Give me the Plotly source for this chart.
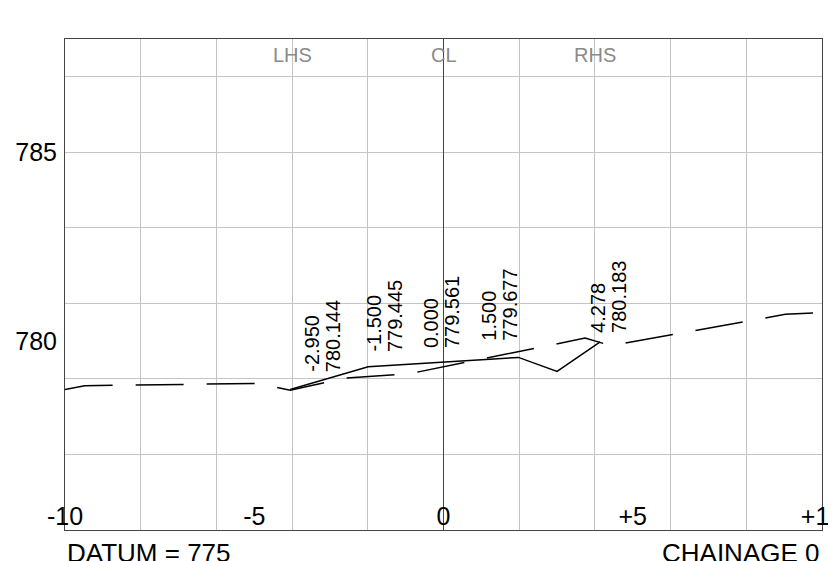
import plotly.graph_objects as go

# ---- data ----
ground_x = [-10.0, -9.48, -4.93, -4.05, -2.61, -0.89, 3.74, 4.43, 9.03, 10.0]
ground_y = [778.72, 778.82, 778.88, 778.70, 779.02, 779.14, 780.08, 779.88, 780.71, 780.76]

design_x = [-4.05, -1.99, 1.98, 3.00, 4.14]
design_y = [778.72, 779.32, 779.57, 779.20, 779.98]

label_offsets = [-2.950, -1.500, 0.000, 1.500, 4.278]
label_levels = [780.144, 779.445, 779.561, 779.677, 780.183]
label_base = [779.16, 779.69, 779.79, 779.98, 780.19]
label_nudge = [-9, -2, -2, -1, 3]

side_labels = ["LHS", "CL", "RHS"]
side_offsets = [-4, 0, 4]

x_ticks = [-10, -5, 0, 5, 10]
x_ticktext = ["-10", "-5", "0", "+5", "+10"]
y_ticks = [780, 785]
y_grid = [775, 777, 779, 781, 783, 785, 787]
x_grid = [-8, -6, -4, -2, 2, 4, 6, 8]

datum = 775
chainage = 0

FONT = "Liberation Sans, Arial, sans-serif"
GRID = "#c4c4c4"
AXIS = "#444444"

fig = go.Figure()
fig.add_trace(go.Scatter(x=ground_x, y=ground_y, mode="lines",
                         line=dict(color="black", width=1.5, dash="48px,23px"),
                         showlegend=False, hoverinfo="skip"))
fig.add_trace(go.Scatter(x=design_x, y=design_y, mode="lines",
                         line=dict(color="black", width=1.5),
                         showlegend=False, hoverinfo="skip"))
fig.add_trace(go.Scatter(x=[None], y=[None], yaxis="y2", showlegend=False, hoverinfo="skip"))

annotations = []
for off, lev, base, nud in zip(label_offsets, label_levels, label_base, label_nudge):
    for txt, dx in ((f"{off:.3f}", -10.5), (f"{lev:.3f}", 10.5)):
        annotations.append(dict(x=off, y=base, xref="x", yref="y", text=txt,
                                textangle=-90, showarrow=False,
                                xanchor="center", yanchor="bottom",
                                xshift=dx + nud, borderpad=0,
                                font=dict(family=FONT, size=20, color="black")))
for lab, off in zip(side_labels, side_offsets):
    annotations.append(dict(x=off, y=787.57, xref="x", yref="y", text=lab,
                            showarrow=False, xanchor="center", yanchor="middle",
                            font=dict(family=FONT, size=20, color="#8a8a8a")))
annotations.append(dict(x=0, y=-0.012, xref="paper", yref="paper",
                        text=f"DATUM = {datum}", showarrow=False,
                        xanchor="left", yanchor="top", xshift=0,
                        font=dict(family=FONT, size=26, color="black")))
annotations.append(dict(x=1, y=-0.012, xref="paper", yref="paper",
                        text=f"CHAINAGE {chainage}", showarrow=False,
                        xanchor="right", yanchor="top", xshift=0,
                        font=dict(family=FONT, size=26, color="black")))

fig.update_layout(
    width=836, height=561,
    margin=dict(l=57, r=22, t=31, b=39, autoexpand=False),
    paper_bgcolor="white", plot_bgcolor="white",
    showlegend=False,
    font=dict(family=FONT, color="black"),
    xaxis=dict(range=[-10, 10], tickmode="array", tickvals=x_ticks, ticktext=x_ticktext,
               ticks="", showgrid=False, automargin=False,
               minor=dict(tickmode="array", tickvals=x_grid, showgrid=True,
                          gridcolor=GRID, gridwidth=1, ticks=""),
               zeroline=True, zerolinecolor=AXIS, zerolinewidth=1,
               showline=True, mirror=True, linecolor=AXIS, linewidth=1,
               ticklabelposition="inside", ticklabeloverflow="allow",
               ticklabelstandoff=2,
               tickfont=dict(family=FONT, size=25, color="black"),
               fixedrange=True),
    yaxis=dict(range=[775, 788], tickmode="array", tickvals=y_grid,
               showticklabels=False, ticks="", showgrid=True, automargin=False,
               gridcolor=GRID, gridwidth=1, zeroline=False,
               showline=True, mirror=True, linecolor=AXIS, linewidth=1,
               fixedrange=True),
    yaxis2=dict(range=[775, 788], overlaying="y", side="left", tickmode="array",
                tickvals=y_ticks, ticks="", showgrid=False, zeroline=False,
                showline=False, automargin=False, ticklabelstandoff=7,
                tickfont=dict(family=FONT, size=25, color="black"),
                fixedrange=True),
    annotations=annotations,
)

fig.write_html("out.html")
